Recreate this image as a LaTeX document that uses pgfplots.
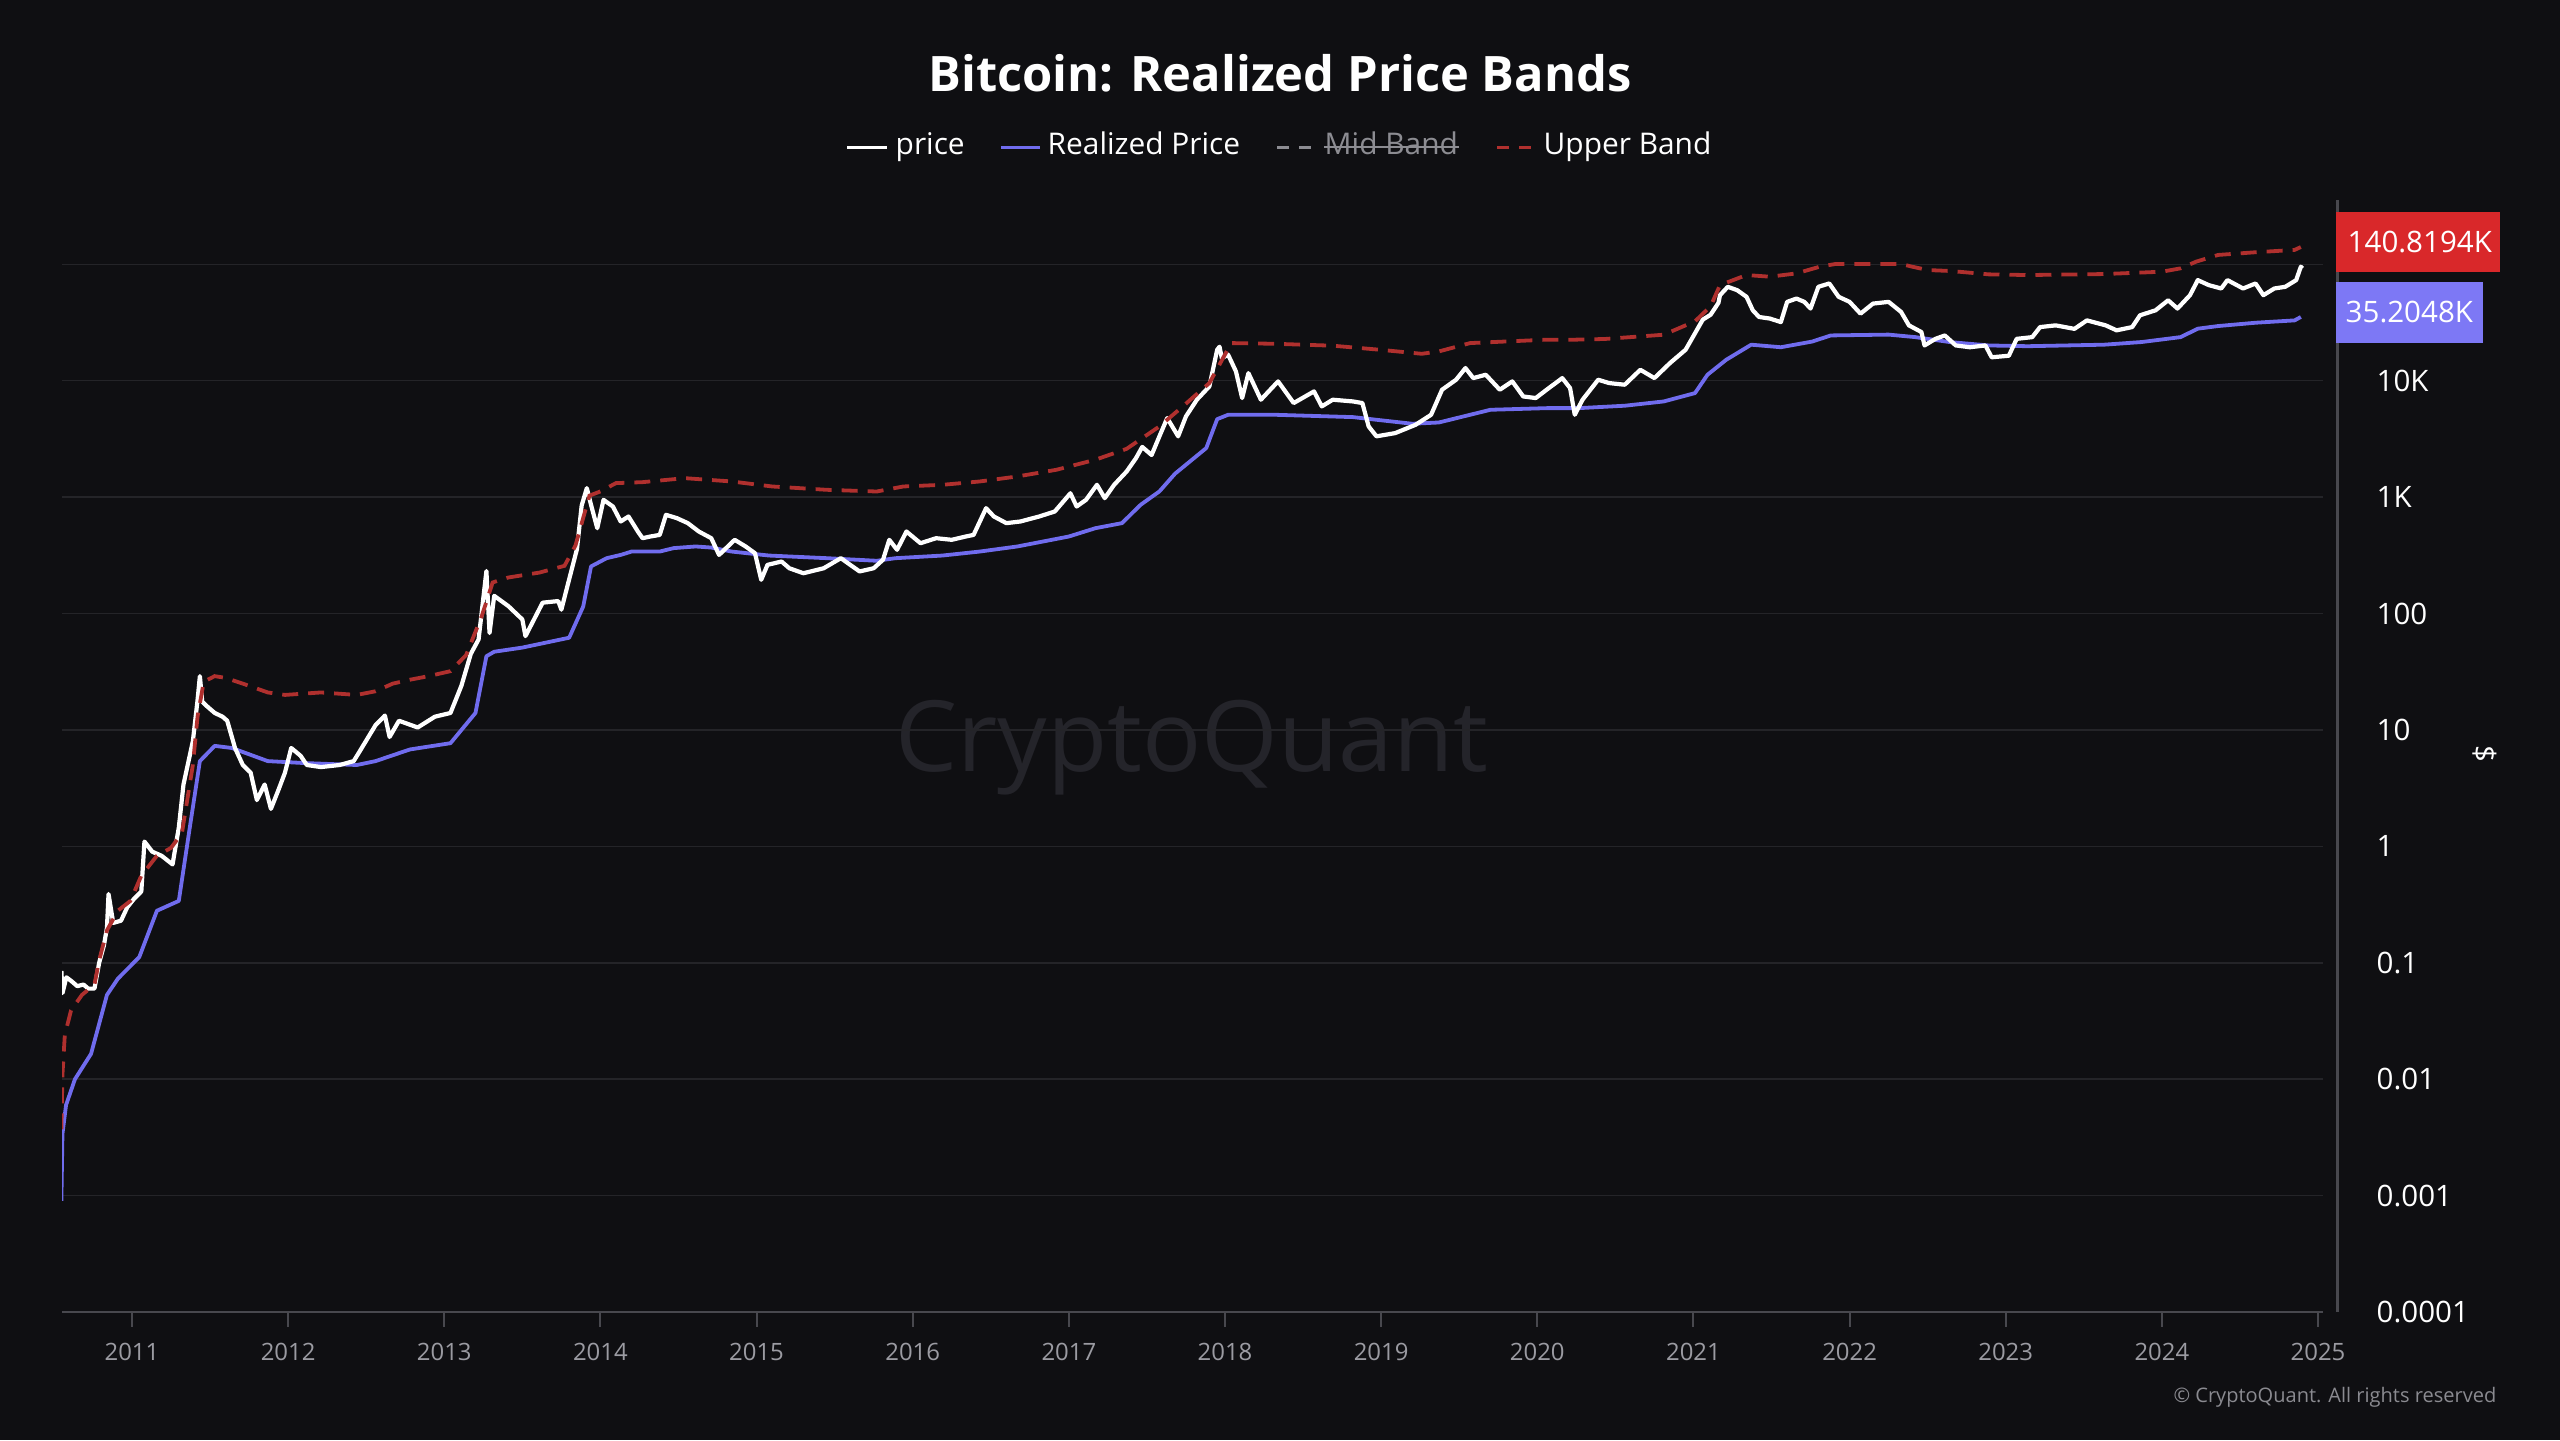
\documentclass[border=0pt]{standalone}
\usepackage{fontspec}
\setmainfont{Open Sans}
\usepackage{pgfplots}
\pgfplotsset{compat=1.18}

\definecolor{bg}{RGB}{15,15,18}
\definecolor{gridc}{RGB}{36,36,40}
\definecolor{axisc}{RGB}{72,72,78}
\definecolor{ticklab}{RGB}{155,155,162}
\definecolor{rp}{RGB}{112,108,238}
\definecolor{rpbox}{RGB}{125,120,245}
\definecolor{ub}{RGB}{176,48,46}
\definecolor{ubbox}{RGB}{217,40,42}
\definecolor{midc}{RGB}{140,140,146}
\definecolor{wm}{RGB}{36,36,42}
\definecolor{copyc}{RGB}{138,138,144}

\begin{document}
\begin{tikzpicture}
\fill[bg] (0,0) rectangle (25.6,14.4);
\path[use as bounding box] (0,0) rectangle (25.6,14.4);
% watermark behind the lines
\node[text=wm, font=\fontsize{28}{30}\selectfont] at (11.92,6.92) {CryptoQuant};

\begin{axis}[
  at={(0.62cm,1.28cm)}, anchor=south west, scale only axis,
  width=22.61cm, height=11.12cm,
  xmin=2010.552, xmax=2025.032,
  ymode=log, ymin=1e-4, ymax=3.57e5,
  separate axis lines,
  axis x line*=bottom, axis y line*=right,
  x axis line style={draw=axisc, line width=0.02cm},
  y axis line style={draw=none},
  ymajorgrids, major grid style={draw=gridc, line width=0.015cm},
  xtick={2011,2012,2013,2014,2015,2016,2017,2018,2019,2020,2021,2022,2023,2024,2025},
  xticklabels={2011,2012,2013,2014,2015,2016,2017,2018,2019,2020,2021,2022,2023,2024,2025},
  ytick={1e-4,1e-3,1e-2,1e-1,1,10,100,1000,10000,100000},
  yticklabels={0.0001,0.001,0.01,0.1,1,10,100,1K,10K,},
  tick align=outside, major tick length=0.15cm,
  xtick style={draw=axisc, line width=0.02cm},
  ytick style={draw=none},
  minor tick num=0,
  xticklabel style={font=\fontsize{6.8}{8}\selectfont, text=ticklab, anchor=north, inner sep=0pt, yshift=-0.15cm},
  yticklabel style={font=\fontsize{8.4}{10}\selectfont, text=white, anchor=west, inner sep=0pt, xshift=0.38cm},
  clip=true,
]
% Realized Price
\addplot[rp, line width=0.038cm, line join=round] coordinates {
(2010.548,0.0009) (2010.555,0.0034) (2010.578,0.006) (2010.635,0.01) (2010.738,0.0165)
(2010.84,0.053) (2010.91,0.073) (2011.047,0.112) (2011.16,0.28) (2011.30,0.34)
(2011.37,1.44) (2011.435,5.4) (2011.53,7.3) (2011.64,7) (2011.87,5.4) (2012.10,5.2)
(2012.44,5.0) (2012.56,5.4) (2012.78,6.8) (2013.04,7.7) (2013.20,14) (2013.27,43)
(2013.32,47) (2013.50,51) (2013.80,62) (2013.89,115) (2013.94,254) (2014.04,299)
(2014.13,319) (2014.20,341) (2014.38,341) (2014.47,365) (2014.61,377) (2014.71,369)
(2014.84,341) (2015.08,315) (2015.45,299) (2015.77,284) (2015.89,299) (2016.19,315)
(2016.43,341) (2016.67,377) (2017.00,459) (2017.17,541) (2017.34,598) (2017.46,860)
(2017.58,1120) (2017.68,1590) (2017.88,2640) (2017.95,4680) (2018.02,5100) (2018.32,5100)
(2018.82,4870) (2018.97,4620) (2019.20,4270) (2019.37,4380) (2019.57,5100) (2019.70,5630)
(2020.07,5820) (2020.27,5820) (2020.56,6100) (2020.81,6640) (2021.01,7830) (2021.09,11260)
(2021.21,15140) (2021.37,20400) (2021.56,19400) (2021.76,21700) (2021.88,24500)
(2022.25,24900) (2022.42,23700) (2022.64,21500) (2022.89,20100) (2023.14,19800)
(2023.63,20400) (2023.87,21500) (2024.12,23700) (2024.23,28000) (2024.36,29500)
(2024.60,31500) (2024.85,33000) (2024.89,35300)
};
% price
\addplot[white, line width=0.042cm, line join=round] coordinates {
(2010.548,0.085) (2010.555,0.055) (2010.58,0.075) (2010.61,0.07) (2010.65,0.063)
(2010.69,0.065) (2010.72,0.06) (2010.76,0.06) (2010.79,0.10) (2010.82,0.14) (2010.84,0.2)
(2010.85,0.39) (2010.88,0.22) (2010.93,0.23) (2010.97,0.3) (2011.01,0.35) (2011.06,0.41)
(2011.08,1.1) (2011.13,0.9) (2011.19,0.83) (2011.26,0.7) (2011.30,1.45) (2011.33,3.4)
(2011.39,8.0) (2011.42,18) (2011.435,29) (2011.45,17.5) (2011.48,16) (2011.53,14)
(2011.58,13) (2011.61,12) (2011.66,7) (2011.71,5) (2011.76,4.3) (2011.80,2.5)
(2011.85,3.4) (2011.89,2.1) (2011.94,3.1) (2011.98,4.3) (2012.02,7) (2012.08,6)
(2012.12,5) (2012.21,4.8) (2012.33,5.0) (2012.42,5.4) (2012.46,6.6) (2012.56,11)
(2012.62,13.3) (2012.65,8.7) (2012.71,12) (2012.83,10.5) (2012.94,13) (2013.04,14)
(2013.11,24) (2013.17,45) (2013.22,60) (2013.27,232) (2013.29,68) (2013.32,142)
(2013.41,116) (2013.50,89) (2013.52,64) (2013.63,124) (2013.73,128) (2013.75,108)
(2013.80,197) (2013.85,358) (2013.88,847) (2013.913,1195) (2013.94,859) (2013.98,541)
(2014.02,948) (2014.08,831) (2014.13,618) (2014.18,682) (2014.24,507) (2014.27,444)
(2014.32,459) (2014.38,474) (2014.42,705) (2014.49,660) (2014.56,598) (2014.63,507)
(2014.71,444) (2014.76,319) (2014.86,430) (2014.93,377) (2014.99,330) (2015.03,195)
(2015.07,262) (2015.16,280) (2015.21,245) (2015.30,222) (2015.43,245) (2015.54,299)
(2015.60,262) (2015.66,230) (2015.75,245) (2015.81,290) (2015.85,430) (2015.90,353)
(2015.96,507) (2016.05,402) (2016.15,444) (2016.25,430) (2016.34,459) (2016.39,474)
(2016.47,804) (2016.52,682) (2016.60,598) (2016.69,618) (2016.81,682) (2016.91,753)
(2017.01,1080) (2017.05,831) (2017.11,948) (2017.18,1276) (2017.23,980) (2017.29,1276)
(2017.37,1660) (2017.43,2163) (2017.47,2700) (2017.53,2300) (2017.58,3330) (2017.63,4780)
(2017.70,3330) (2017.75,4940) (2017.82,6870) (2017.90,8940) (2017.95,18470) (2017.965,19600)
(2017.98,15630) (2018.02,16740) (2018.07,12030) (2018.11,7100) (2018.15,11620)
(2018.23,6870) (2018.34,9870) (2018.44,6430) (2018.57,8100) (2018.62,6020) (2018.69,6870)
(2018.82,6640) (2018.88,6430) (2018.92,4050) (2018.97,3330) (2019.09,3550) (2019.22,4180)
(2019.32,5100) (2019.39,8370) (2019.48,10200) (2019.54,12850) (2019.59,10540)
(2019.67,11260) (2019.76,8370) (2019.84,9870) (2019.91,7330) (2019.99,7100) (2020.06,8370)
(2020.16,10540) (2020.21,8650) (2020.24,5100) (2020.29,6870) (2020.39,10200)
(2020.46,9550) (2020.56,9240) (2020.66,12420) (2020.75,10540) (2020.85,14190)
(2020.95,18470) (2021.06,33500) (2021.11,36900) (2021.16,46600) (2021.17,54300)
(2021.22,64100) (2021.28,60000) (2021.34,52600) (2021.38,40300) (2021.42,35300)
(2021.49,34200) (2021.56,31900) (2021.60,47600) (2021.66,50800) (2021.71,47600)
(2021.75,41700) (2021.80,64100) (2021.87,68500) (2021.93,52600) (2022.00,47600)
(2022.07,37700) (2022.15,46000) (2022.25,47600) (2022.33,39000) (2022.38,29900)
(2022.46,26200) (2022.48,20100) (2022.55,22900) (2022.61,24500) (2022.68,20100)
(2022.77,19400) (2022.87,20100) (2022.91,15900) (2023.02,16400) (2023.07,22900)
(2023.17,23700) (2023.22,28900) (2023.32,29900) (2023.44,27900) (2023.52,33000)
(2023.64,29900) (2023.71,27100) (2023.81,28900) (2023.86,36500) (2023.96,40300)
(2024.04,49100) (2024.10,41700) (2024.18,54300) (2024.23,73200) (2024.30,66300)
(2024.38,62000) (2024.42,73200) (2024.52,62000) (2024.60,68500) (2024.65,54300)
(2024.72,62000) (2024.79,64100) (2024.86,73200) (2024.89,95500) (2024.90,92400)
};
% Upper Band
\addplot[ub, line width=0.038cm, dash pattern=on 0.16cm off 0.1cm] coordinates {
(2010.548,0.0037) (2010.555,0.011) (2010.57,0.024) (2010.61,0.039) (2010.68,0.053)
(2010.76,0.065) (2010.79,0.105) (2010.84,0.19) (2010.91,0.28) (2010.99,0.34)
(2011.06,0.56) (2011.16,0.83) (2011.25,0.97) (2011.32,1.3) (2011.39,5) (2011.42,13)
(2011.46,26) (2011.53,29) (2011.60,28) (2011.71,25) (2011.87,21) (2011.98,20)
(2012.21,21) (2012.44,20) (2012.56,21.5) (2012.67,25) (2012.78,27) (2012.90,29)
(2013.04,32) (2013.14,44) (2013.24,95) (2013.31,185) (2013.41,204) (2013.61,225)
(2013.77,257) (2013.84,383) (2013.93,1030) (2014.00,1120) (2014.10,1320) (2014.27,1345)
(2014.54,1456) (2014.84,1364) (2015.10,1235) (2015.45,1156) (2015.77,1118) (2015.94,1235)
(2016.19,1276) (2016.43,1364) (2016.67,1505) (2016.92,1718) (2017.17,2096) (2017.37,2600)
(2017.58,4050) (2017.73,6020) (2017.90,9550) (2018.04,21060) (2018.32,20770)
(2018.69,20000) (2018.99,18470) (2019.26,17040) (2019.37,17860) (2019.57,21060)
(2020.06,22530) (2020.24,22530) (2020.43,22830) (2020.81,24850) (2021.01,32400)
(2021.11,43600) (2021.17,66300) (2021.34,80900) (2021.49,78300) (2021.66,83600)
(2021.81,95500) (2021.91,100700) (2022.33,100700) (2022.40,95500) (2022.50,89300)
(2022.65,87600) (2022.89,82000) (2023.14,80900) (2023.63,82500) (2024.00,86400)
(2024.12,92400) (2024.22,105500) (2024.36,120400) (2024.60,127000) (2024.85,133000)
(2024.89,140800)
};
\end{axis}

% right axis line
\draw[axisc, line width=0.03cm] (23.37,1.28) -- (23.37,12.4);
% last value boxes
\fill[ubbox] (23.36,12.28) rectangle (25.00,11.68);
\node[anchor=west, text=white, inner sep=0pt, font=\fontsize{8.4}{10}\selectfont] at (23.47,11.98) {140.8194K};
\fill[rpbox] (23.36,11.58) rectangle (24.83,10.97);
\node[anchor=west, text=white, inner sep=0pt, font=\fontsize{8.4}{10}\selectfont] at (23.45,11.275) {35.2048K};
% unit
\node[rotate=-90, text=white, font=\fontsize{8.4}{10}\selectfont] at (24.85,6.86) {\$};

% title
\node[anchor=base, text=white, font=\bfseries\fontsize{13.9}{17}\selectfont] at (12.80,13.48) {Bitcoin: Realized Price Bands};

% legend
\begin{scope}[font=\fontsize{8.5}{10}\selectfont]
\draw[white, line width=0.03cm] (8.47,12.92) -- (8.87,12.92);
\node[anchor=base west, inner sep=0pt, text=white] at (8.95,12.85) {price};
\draw[rp, line width=0.03cm] (10.01,12.92) -- (10.40,12.92);
\node[anchor=base west, inner sep=0pt, text=white] at (10.47,12.85) {Realized Price};
\draw[midc, line width=0.03cm, dash pattern=on 0.12cm off 0.1cm] (12.77,12.92) -- (13.15,12.92);
\node[anchor=base west, inner sep=0pt, text=midc] (mid) at (13.24,12.85) {Mid Band};
\coordinate (s) at (0,12.93);
\draw[midc, line width=0.02cm] (13.24,12.93) -- (mid.east |- s);
\draw[ub, line width=0.03cm, dash pattern=on 0.12cm off 0.1cm] (14.97,12.92) -- (15.35,12.92);
\node[anchor=base west, inner sep=0pt, text=white] at (15.43,12.85) {Upper Band};
\end{scope}

% copyright
\node[anchor=east, inner sep=0pt, text=copyc, font=\fontsize{5.7}{7}\selectfont] at (24.97,0.43) {© CryptoQuant. All rights reserved};
\end{tikzpicture}
\end{document}
